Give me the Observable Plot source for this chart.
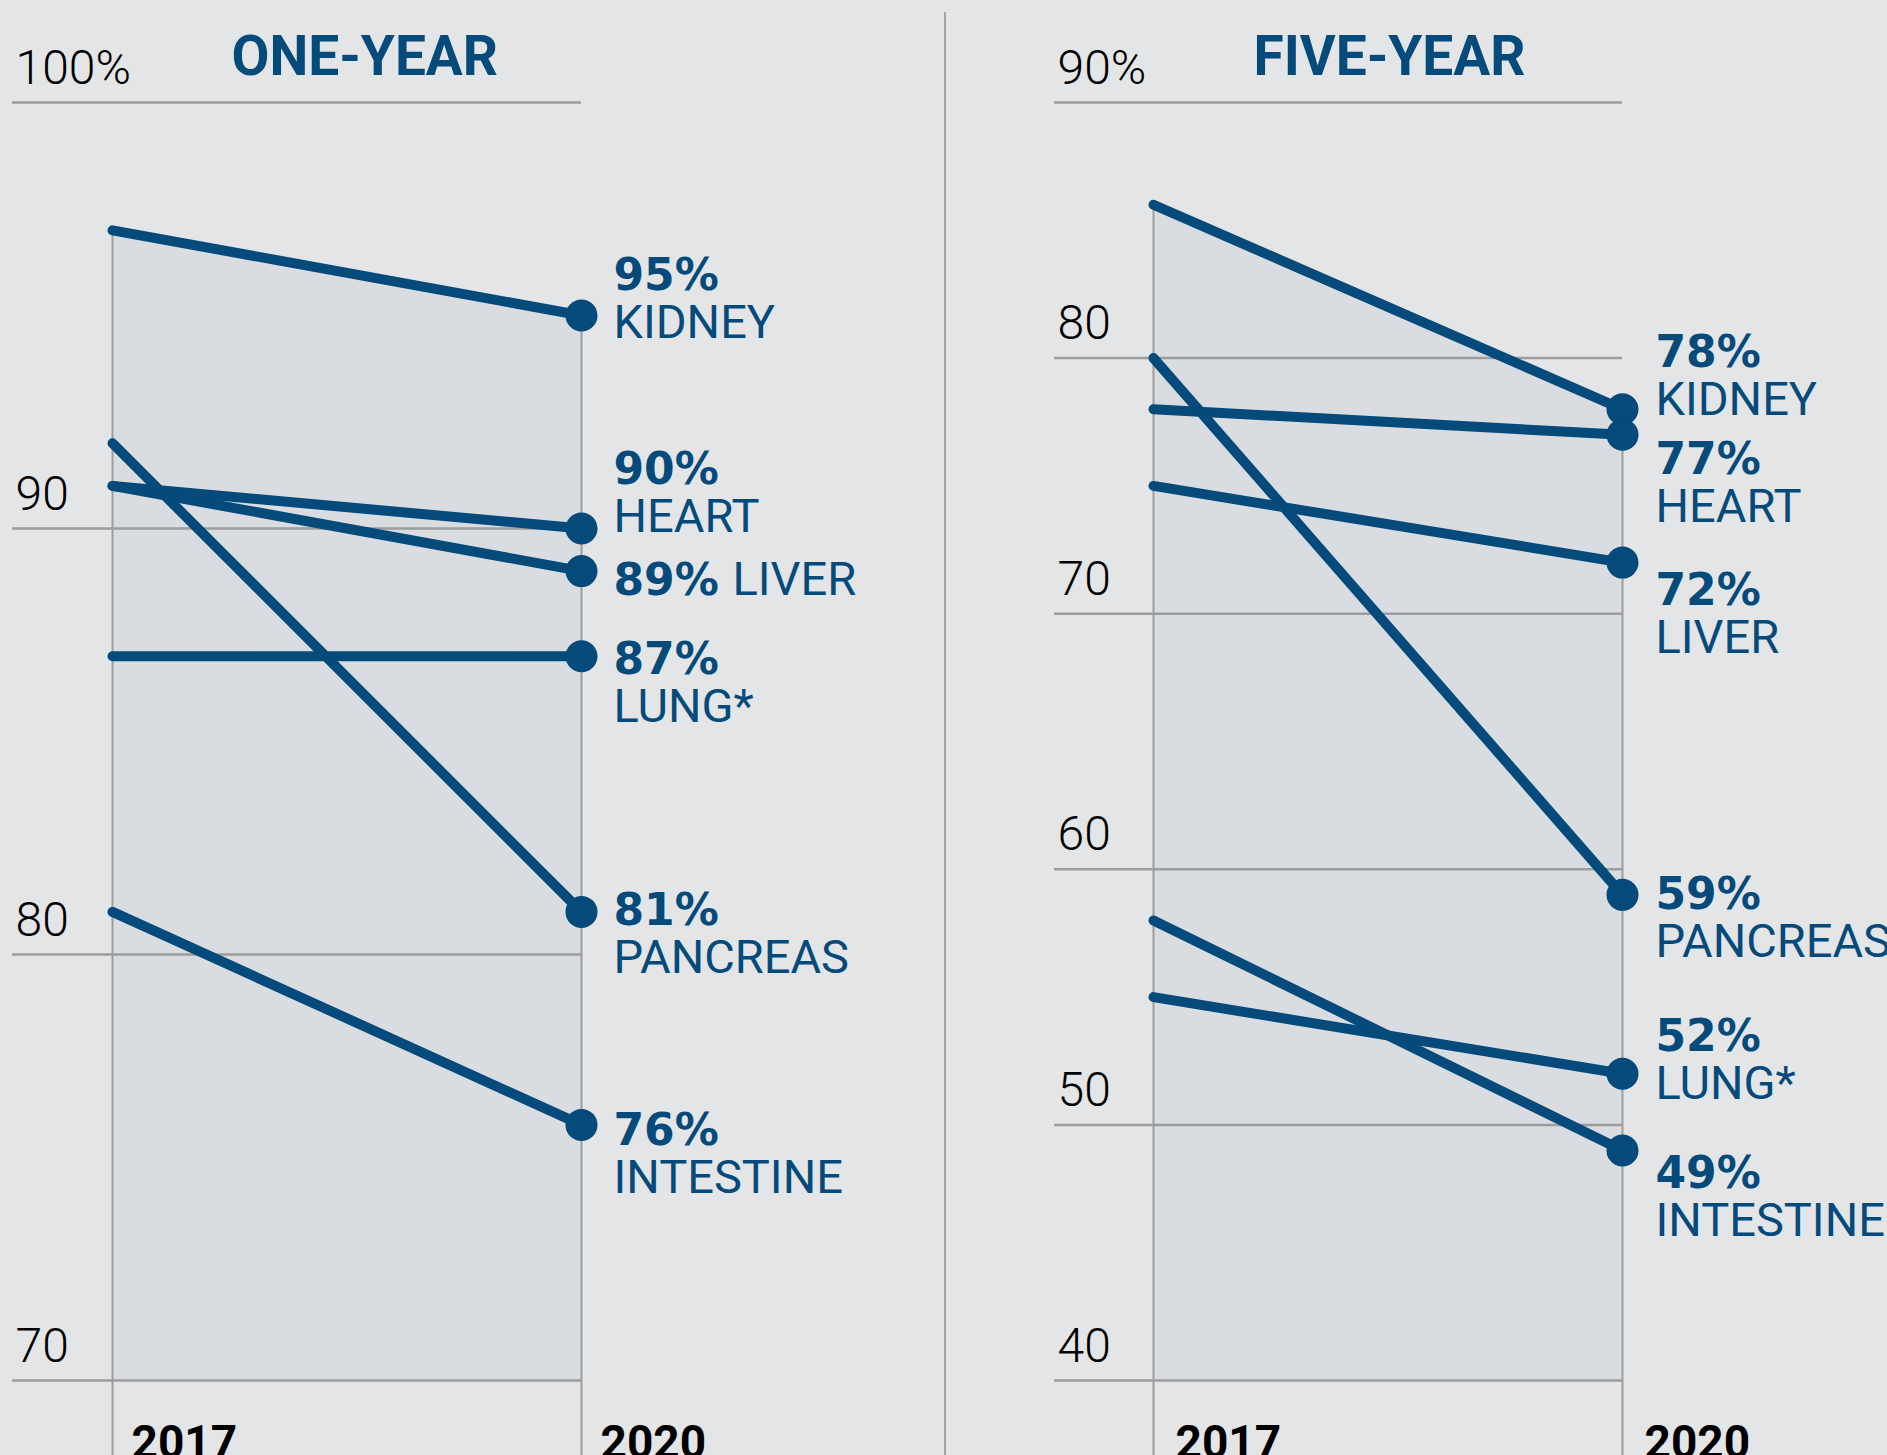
<!DOCTYPE html>
<html>
<head>
<meta charset="utf-8">
<script src="https://cdn.jsdelivr.net/npm/d3@7"></script>
<script src="https://cdn.jsdelivr.net/npm/@observablehq/plot@0.6"></script>
<style>
  html, body { margin: 0; padding: 0; }
  body { background: #e4e5e7; width: 1887px; height: 1455px; overflow: hidden; position: relative; }
  .panel { position: absolute; top: 0; overflow: hidden; }
  #divider { position: absolute; left: 944px; top: 12px; width: 2px; height: 1443px; background: #a5a5a5; }
</style>
</head>
<body>
<div id="left" class="panel" style="left:0;width:945px;height:1455px"></div>
<div id="divider"></div>
<div id="right" class="panel" style="left:945px;width:942px;height:1455px"></div>
<script>
// ---------- data ----------
const organs = ["KIDNEY", "HEART", "LIVER", "LUNG*", "PANCREAS", "INTESTINE"];
const years = [2017, 2020];

const oneYear2017 = [97, 91, 91, 87, 92, 81];
const oneYear2020 = [95, 90, 89, 87, 81, 76];

const fiveYear2017 = [86, 78, 75, 55, 80, 58];
const fiveYear2020 = [78, 77, 72, 52, 59, 49];

const oneYearTicks = [100, 90, 80, 70];
const oneYearTickLabels = ["100%", "90", "80", "70"];
const fiveYearTicks = [90, 80, 70, 60, 50, 40];
const fiveYearTickLabels = ["90%", "80", "70", "60", "50", "40"];

const titles = ["ONE-YEAR", "FIVE-YEAR"];

// ---------- layout (pixels) ----------
const BLUE = "#044a7b";
const GRID = "#9d9d9d";
const AREA = "#d9dce1";

// baseline offset (px) of the percentage line relative to the 2020 dot; name goes 48px lower
// (or on the same line when `inline` is set)
const leftLabelLayout = {
  "KIDNEY": {dy: -26}, "HEART": {dy: -45}, "LIVER": {dy: 24, inline: 119},
  "LUNG*": {dy: 18}, "PANCREAS": {dy: 13}, "INTESTINE": {dy: 20}
};
const rightLabelLayout = {
  "KIDNEY": {dy: -42}, "HEART": {dy: 39}, "LIVER": {dy: 42},
  "LUNG*": {dy: -23}, "PANCREAS": {dy: 14}, "INTESTINE": {dy: 38}
};

function panel({title, v17, v20, ticks, tickLabels, width, gridLeft, xRange, titleDx, labelLayout, labelDx, yearDx}) {
  const rows = organs.flatMap((o, i) => [
    {organ: o, year: years[0], value: v17[i]},
    {organ: o, year: years[1], value: v20[i]}
  ]);
  const top = years.map(y => ({year: y, value: d3.max(rows.filter(r => r.year === y), r => r.value)}));
  const yMin = d3.min(ticks), yMax = d3.max(ticks);
  const ends = rows.filter(r => r.year === years[1]);

  const labelMarks = ends.flatMap(r => {
    const L = labelLayout[r.organ];
    return [
      Plot.text([r], {
        x: "year", y: "value", text: d => d.value + "%",
        dx: labelDx, dy: L.dy, textAnchor: "start", lineAnchor: "bottom",
        fontFamily: "DejaVu Sans", fontWeight: 700, fontSize: 44, fill: BLUE
      }),
      Plot.text([r], {
        x: "year", y: "value", text: "organ",
        dx: labelDx + (L.inline || 0), dy: L.inline ? L.dy : L.dy + 48,
        textAnchor: "start", lineAnchor: "bottom",
        fontFamily: "Roboto", fontWeight: 400, fontSize: 47, fill: BLUE
      })
    ];
  });

  return Plot.plot({
    width, height: 1455,
    marginTop: 102, marginBottom: 75,
    marginLeft: gridLeft, marginRight: width - xRange[1],
    x: {type: "linear", domain: years, range: xRange, axis: null},
    y: {domain: [yMin, yMax], axis: null},
    style: {background: "transparent", fontFamily: "Roboto, sans-serif", overflow: "hidden"},
    marks: [
      Plot.areaY(top, {x: "year", y1: yMin, y2: "value", fill: AREA}),
      Plot.ruleY(ticks, {stroke: GRID, strokeWidth: 2.5}),
      Plot.ruleX(top, {x: "year", y1: "value", y2: yMin, stroke: GRID, strokeWidth: 2, insetBottom: -90}),
      Plot.text(ticks, {
        y: d => d, text: (d, i) => tickLabels[i],
        frameAnchor: "left", textAnchor: "start", lineAnchor: "bottom",
        dx: 3, dy: -19, fontSize: 48, fontWeight: 300, fill: "#000"
      }),
      Plot.text([title], {
        text: d => d, frameAnchor: "top-left", textAnchor: "start", lineAnchor: "bottom",
        dx: titleDx, dy: -28, fontSize: 55, fontWeight: 700, fill: BLUE
      }),
      Plot.line(rows, {x: "year", y: "value", z: "organ", stroke: BLUE, strokeWidth: 10, strokeLinecap: "round"}),
      Plot.dot(ends, {x: "year", y: "value", r: 16, fill: BLUE}),
      ...labelMarks,
      Plot.text(years, {
        x: d => d, text: d => String(d), frameAnchor: "bottom",
        textAnchor: "start", lineAnchor: "bottom", dx: yearDx, dy: 77,
        fontSize: 46, fontWeight: 700, fill: "#000"
      })
    ]
  });
}

document.getElementById("left").appendChild(panel({
  title: titles[0], v17: oneYear2017, v20: oneYear2020,
  ticks: oneYearTicks, tickLabels: oneYearTickLabels,
  width: 945, gridLeft: 12, xRange: [112, 581], titleDx: 219,
  labelLayout: leftLabelLayout, labelDx: 32, yearDx: 19
}));

document.getElementById("right").appendChild(panel({
  title: titles[1], v17: fiveYear2017, v20: fiveYear2020,
  ticks: fiveYearTicks, tickLabels: fiveYearTickLabels,
  width: 942, gridLeft: 109, xRange: [208, 677], titleDx: 199,
  labelLayout: rightLabelLayout, labelDx: 33, yearDx: 22
}));
</script>
</body>
</html>
